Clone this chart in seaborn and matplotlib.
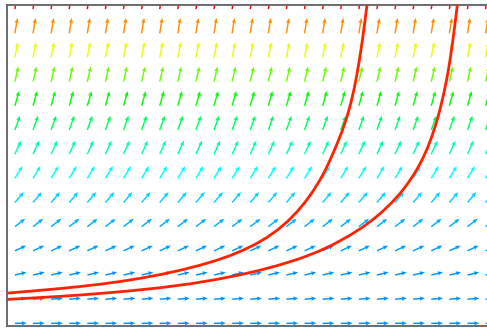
import numpy as np
import matplotlib
matplotlib.use("Agg")
import matplotlib.pyplot as plt
from matplotlib.colors import ListedColormap
import seaborn as sns
import pandas as pd

# slope field grid (data units) and slope dy/dx read for each row, bottom to top
grid_x = np.arange(27)
grid_y = np.arange(14)
row_slopes = [0.01, 0.06, 0.18, 0.35, 0.58, 0.88, 1.23, 1.65, 2.12, 2.65, 3.24, 3.89, 4.6, 5.36]

# two solution curves
curve_a_x = [-0.608, 0.276, 1.381, 2.486, 3.591, 4.696, 5.801, 6.906, 8.011, 9.116,
             10.221, 11.050, 11.878, 12.597, 13.260, 13.923, 14.530, 15.083, 15.580,
             16.022, 16.464, 16.851, 17.182, 17.459, 17.735, 18.066, 18.232, 18.398,
             18.564, 18.729, 18.867, 19.006, 19.116, 19.227, 19.337, 19.448, 19.558]
curve_a_y = [1.241, 1.295, 1.365, 1.440, 1.523, 1.618, 1.729, 1.862, 2.015, 2.193,
             2.404, 2.586, 2.801, 3.024, 3.264, 3.554, 3.877, 4.233, 4.613,
             5.006, 5.465, 5.929, 6.392, 6.839, 7.315, 7.935, 8.287, 8.680,
             9.135, 9.673, 10.190, 10.790, 11.307, 11.887, 12.507, 13.169, 13.873]
curve_b_x = [-0.608, 0.829, 2.486, 3.591, 5.249, 6.630, 8.011, 9.669, 11.160, 12.431,
             13.536, 14.641, 15.746, 16.685, 17.569, 18.508, 19.171, 19.724, 20.276,
             20.829, 21.271, 21.657, 21.989, 22.265, 22.541, 22.790, 23.011, 23.204,
             23.370, 23.536, 23.702, 23.840, 23.950, 24.061, 24.171, 24.282, 24.392, 24.503]
curve_b_y = [0.981, 1.043, 1.117, 1.171, 1.270, 1.365, 1.473, 1.634, 1.820, 2.007,
             2.197, 2.420, 2.681, 2.950, 3.256, 3.645, 3.959, 4.262, 4.605,
             5.006, 5.370, 5.739, 6.103, 6.446, 6.839, 7.253, 7.687, 8.122,
             8.535, 9.011, 9.549, 10.046, 10.501, 11.018, 11.597, 12.218, 12.880, 13.583]

sns.set_style("white")

fig = plt.figure(figsize=(4.87, 3.29), dpi=100)
ax = fig.add_axes([0.0154, 0.0076, 0.9969, 0.9757])

X, Y = np.meshgrid(grid_x, grid_y)
S = np.repeat(np.array(row_slopes)[:, None], len(grid_x), axis=1)
mag = np.sqrt(1 + S ** 2)
arrow_len = 0.65
U = arrow_len / mag
V = arrow_len * S / mag

cmap = ListedColormap(plt.cm.hsv(np.linspace(0.58, 0.0, 256)))
ax.quiver(X, Y, U, V, mag, cmap=cmap, angles="xy", scale_units="xy", scale=1,
          width=0.003, headwidth=3, headlength=3.5, headaxislength=3.1, zorder=2)

curves = pd.concat([
    pd.DataFrame({"x": curve_a_x, "y": curve_a_y, "curve": "a"}),
    pd.DataFrame({"x": curve_b_x, "y": curve_b_y, "curve": "b"}),
])
sns.lineplot(data=curves, x="x", y="y", units="curve", estimator=None, sort=False,
             color="#ff2200", lw=2.0, ax=ax, zorder=3)

ax.set_xlim(-0.41, 26.41)
ax.set_ylim(-0.13, 13.15)
ax.set_xticks([])
ax.set_yticks([])
ax.set_xlabel("")
ax.set_ylabel("")
for sp in ax.spines.values():
    sp.set_color("#6b6b6b")
    sp.set_linewidth(1.4)

fig.savefig("out.png", dpi=100)
